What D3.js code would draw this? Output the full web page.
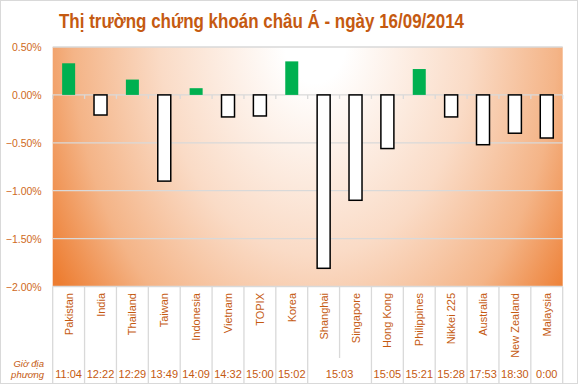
<!DOCTYPE html>
<html>
<head>
<meta charset="utf-8">
<script src="https://cdn.jsdelivr.net/npm/d3@7"></script>
<style>
	body { margin: 0; background: #fff; }
	svg { display: block; font-family: "Liberation Sans", Arial, sans-serif; }
</style>
</head>
<body>
<svg id="chart"></svg>
<script>
var markets = ['Pakistan', 'India', 'Thailand', 'Taiwan', 'Indonesia', 'Vietnam', 'TOPIX', 'Korea',
	'Shanghai', 'Singapore', 'Hong Kong', 'Philippines', 'Nikkei 225', 'Australia', 'New Zealand', 'Malaysia'];

// % change on the day
var changes = [0.33, -0.21, 0.16, -0.90, 0.07, -0.23, -0.22, 0.35,
	-1.81, -1.10, -0.56, 0.27, -0.23, -0.52, -0.40, -0.45];

// local time rows, Shanghai + Singapore share one cell
var timeCells = [
	{ from: 0, to: 0, label: '11:04' },
	{ from: 1, to: 1, label: '12:22' },
	{ from: 2, to: 2, label: '12:29' },
	{ from: 3, to: 3, label: '13:49' },
	{ from: 4, to: 4, label: '14:09' },
	{ from: 5, to: 5, label: '14:32' },
	{ from: 6, to: 6, label: '15:00' },
	{ from: 7, to: 7, label: '15:02' },
	{ from: 8, to: 9, label: '15:03' },
	{ from: 10, to: 10, label: '15:05' },
	{ from: 11, to: 11, label: '15:21' },
	{ from: 12, to: 12, label: '15:28' },
	{ from: 13, to: 13, label: '17:53' },
	{ from: 14, to: 14, label: '18:30' },
	{ from: 15, to: 15, label: '0:00' }
];

var yTicks = [0.5, 0, -0.5, -1, -1.5, -2];

var W = 578, H = 385;
var plot = { left: 52.7, right: 562.7, top: 47, bottom: 286.5 };
var orange = '#C55A11';

var svg = d3.select('#chart')
	.attr('width', W)
	.attr('height', H);

var x = d3.scaleBand()
	.domain(d3.range(markets.length))
	.range([plot.left, plot.right]);

var y = d3.scaleLinear()
	.domain([-2, 0.5])
	.range([plot.bottom, plot.top]);

// background gradient, white near top centre, orange at the corners
var defs = svg.append('defs');
var grad = defs.append('radialGradient')
	.attr('id', 'bg')
	.attr('gradientUnits', 'userSpaceOnUse')
	.attr('cx', 0).attr('cy', 0).attr('r', 1)
	.attr('gradientTransform', 'translate(315,40) scale(310,430)');
grad.append('stop').attr('offset', 0).attr('stop-color', '#ffffff');
grad.append('stop').attr('offset', 0.1).attr('stop-color', '#ffffff');
grad.append('stop').attr('offset', 0.5).attr('stop-color', '#FADBC6');
grad.append('stop').attr('offset', 0.78).attr('stop-color', '#F4B487');
grad.append('stop').attr('offset', 1).attr('stop-color', '#ED7D31');

svg.append('rect')
	.attr('x', 0.5).attr('y', 0.5)
	.attr('width', W - 1).attr('height', H - 2)
	.style('fill', '#fff')
	.style('stroke', '#D9D9D9');

svg.append('rect')
	.attr('x', plot.left)
	.attr('y', plot.top)
	.attr('width', plot.right - plot.left)
	.attr('height', plot.bottom - plot.top)
	.style('fill', 'url(#bg)');

svg.append('text')
	.attr('x', 261.5)
	.attr('y', 28)
	.attr('text-anchor', 'middle')
	.attr('textLength', 405)
	.attr('lengthAdjust', 'spacingAndGlyphs')
	.style('font-size', '20px')
	.style('font-weight', 'bold')
	.style('fill', orange)
	.text('Thị trường chứng khoán châu Á - ngày 16/09/2014');

// gridlines
svg.selectAll('.grid')
	.data(yTicks)
	.enter()
	.append('line')
	.attr('class', 'grid')
	.attr('x1', plot.left)
	.attr('x2', plot.right)
	.attr('y1', function(d) { return y(d); })
	.attr('y2', function(d) { return y(d); })
	.style('stroke', '#D9D9D9')
	.style('stroke-width', 1.3);

var yAxis = svg.append('g')
	.attr('transform', 'translate(' + (plot.left - 11) + ',0)')
	.call(d3.axisLeft(y).tickValues(yTicks).tickSize(0).tickPadding(0)
		.tickFormat(function(d) { return d3.format('.2f')(d) + '%'; }));
yAxis.select('.domain').remove();
yAxis.selectAll('text')
	.attr('dy', '0.35em')
	.style('font-family', '"Liberation Sans", Arial, sans-serif')
	.style('font-size', '10.5px')
	.style('fill', '#CF6A22');

// band boundaries: small ticks at zero line and separators below the plot
var bounds = d3.range(markets.length + 1);
function bx(i) { return plot.left + i * x.step(); }

svg.selectAll('.zero-tick')
	.data(bounds)
	.enter()
	.append('line')
	.attr('x1', function(d) { return bx(d); })
	.attr('x2', function(d) { return bx(d); })
	.attr('y1', y(0))
	.attr('y2', y(0) + 4)
	.style('stroke', '#D9D9D9')
	.style('stroke-width', 1.3);

svg.selectAll('.sep')
	.data(bounds)
	.enter()
	.append('line')
	.attr('x1', function(d) { return bx(d); })
	.attr('x2', function(d) { return bx(d); })
	.attr('y1', plot.bottom)
	.attr('y2', function(d) { return d === 9 ? 358 : 383; })
	.style('stroke', '#D9D9D9')
	.style('stroke-width', 1.3);

// bars
var barW = 13;
svg.selectAll('.bar')
	.data(changes)
	.enter()
	.append('rect')
	.attr('class', 'bar')
	.attr('x', function(d, i) { return x(i) + x.bandwidth() / 2 - barW / 2; })
	.attr('y', function(d) { return y(Math.max(d, 0)); })
	.attr('width', barW)
	.attr('height', function(d) { return Math.abs(y(d) - y(0)); })
	.style('fill', function(d) { return d >= 0 ? '#00B050' : '#fff'; })
	.style('stroke', function(d) { return d >= 0 ? 'none' : '#000'; })
	.style('stroke-width', 1.5);

// category labels, rotated
svg.selectAll('.cat')
	.data(markets)
	.enter()
	.append('text')
	.attr('class', 'cat')
	.attr('transform', function(d, i) {
		return 'translate(' + (x(i) + x.bandwidth() / 2 + 4) + ',293) rotate(-90)';
	})
	.attr('text-anchor', 'end')
	.style('font-size', '11px')
	.style('fill', orange)
	.text(function(d) { return d; });

// local time row
svg.selectAll('.time')
	.data(timeCells)
	.enter()
	.append('text')
	.attr('class', 'time')
	.attr('x', function(d) { return (bx(d.from) + bx(d.to + 1)) / 2; })
	.attr('y', 378)
	.attr('text-anchor', 'middle')
	.style('font-size', '11px')
	.style('fill', orange)
	.text(function(d) { return d.label; });

var rowLabel = svg.append('text')
	.attr('text-anchor', 'end')
	.style('font-size', '9.5px')
	.style('font-style', 'italic')
	.style('fill', orange);
rowLabel.append('tspan').attr('x', 44).attr('y', 367).text('Giờ địa');
rowLabel.append('tspan').attr('x', 44).attr('y', 378).text('phương');
</script>
</body>
</html>
